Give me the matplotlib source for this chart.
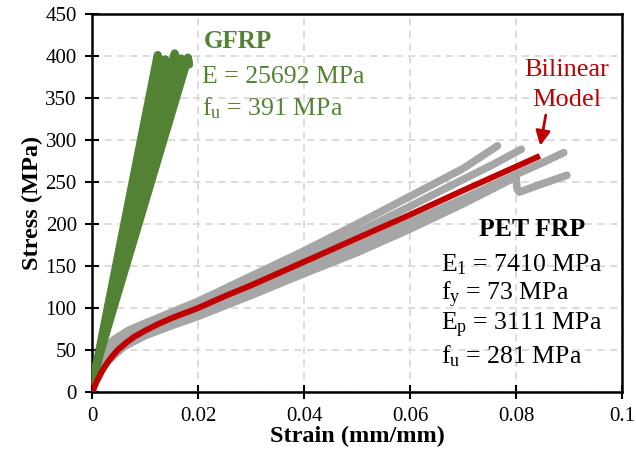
import numpy as np
import matplotlib
matplotlib.use('Agg')
import matplotlib.pyplot as plt

plt.rcParams['font.family'] = ['Liberation Serif', 'DejaVu Serif']
plt.rcParams['mathtext.fontset'] = 'custom'
plt.rcParams['mathtext.rm'] = 'Liberation Serif'
plt.rcParams['mathtext.it'] = 'Liberation Serif:italic'
plt.rcParams['mathtext.bf'] = 'Liberation Serif:bold'

# GFRP specimens (strain, stress)
gfrp_1_x = [0.0, 0.0124, 0.0127]
gfrp_1_y = [5, 401, 390]
gfrp_2_x = [0.0, 0.0138, 0.0141]
gfrp_2_y = [6, 396, 388]
gfrp_3_x = [0.0, 0.0156, 0.0159]
gfrp_3_y = [10, 403, 394]
gfrp_4_x = [0.0, 0.0168, 0.0171]
gfrp_4_y = [12, 397, 388]
gfrp_5_x = [0.0, 0.0181, 0.0183]
gfrp_5_y = [15, 398, 390]

# PET FRP specimens
pet_1_x = [0.0, 0.0005, 0.002, 0.004, 0.007, 0.01, 0.015, 0.02, 0.03, 0.04, 0.05, 0.06, 0.07, 0.0765]
pet_1_y = [0, 28, 48, 62, 74, 82, 95, 108, 138, 168, 200, 233, 266, 293]
pet_2_x = [0.0, 0.001, 0.003, 0.006, 0.01, 0.015, 0.02, 0.03, 0.04, 0.05, 0.06, 0.07, 0.076, 0.081]
pet_2_y = [0, 32, 50, 65, 77, 90, 103, 131, 160, 190, 221, 253, 272, 289]
pet_3_x = [0.0, 0.001, 0.003, 0.006, 0.01, 0.015, 0.02, 0.03, 0.04, 0.05, 0.06, 0.07, 0.08, 0.085, 0.089]
pet_3_y = [0, 22, 40, 57, 71, 84, 95, 121, 147, 174, 202, 230, 259, 273, 285]
pet_4_x = [0.0, 0.001, 0.003, 0.006, 0.01, 0.015, 0.02, 0.03, 0.04, 0.05, 0.06, 0.07, 0.08, 0.0802, 0.0806, 0.085, 0.0896]
pet_4_y = [0, 20, 37, 54, 67, 79, 90, 115, 141, 166, 194, 224, 256, 242, 238, 248, 258]

# bilinear model
model_x = [0.0, 0.001, 0.002, 0.003, 0.004, 0.005, 0.0065, 0.008, 0.01, 0.0125, 0.015, 0.0175,
           0.02, 0.025, 0.03, 0.04, 0.05, 0.06, 0.07, 0.0845]
model_y = [0, 14, 26, 36, 44, 51, 59, 66, 73, 81, 88, 94,
           100, 114, 127, 155, 183, 211, 240, 281]

x_ticks = [0, 0.02, 0.04, 0.06, 0.08, 0.1]
x_tick_labels = ['0', '0.02', '0.04', '0.06', '0.08', '0.1']
y_ticks = [0, 50, 100, 150, 200, 250, 300, 350, 400, 450]

green = '#548235'
gray = '#A6A6A6'
red = '#C00000'

fig = plt.figure(figsize=(6.36, 4.58), dpi=100)
ax = fig.add_axes([0.1447, 0.144, 0.9780 - 0.1447, 0.9694 - 0.144])

for gx, gy in [(pet_1_x, pet_1_y), (pet_2_x, pet_2_y), (pet_3_x, pet_3_y), (pet_4_x, pet_4_y)]:
    ax.plot(gx, gy, color=gray, lw=5.5, solid_capstyle='round', solid_joinstyle='round', zorder=2)

for gx, gy in [(gfrp_1_x, gfrp_1_y), (gfrp_2_x, gfrp_2_y), (gfrp_3_x, gfrp_3_y),
               (gfrp_4_x, gfrp_4_y), (gfrp_5_x, gfrp_5_y)]:
    ax.plot(gx, gy, color=green, lw=6, solid_capstyle='round', solid_joinstyle='round', zorder=3)

ax.plot(model_x, model_y, color=red, lw=4.3, solid_capstyle='butt', zorder=4)

ax.set_xlim(0, 0.1)
ax.set_ylim(0, 450)
ax.set_xticks(x_ticks)
ax.set_xticklabels(x_tick_labels)
ax.set_yticks(y_ticks)
ax.tick_params(direction='inout', length=10, width=1.5, labelsize=15, pad=6)
ax.grid(True, color='#D9D9D9', linestyle=(0, (4, 3)), lw=1.3, zorder=0)
ax.set_axisbelow(True)
for s in ax.spines.values():
    s.set_linewidth(1.8)

ax.set_xlabel('Strain (mm/mm)', fontsize=17.5, fontweight='bold', labelpad=0)
ax.set_ylabel('Stress (MPa)', fontsize=17.5, fontweight='bold', labelpad=2)

# GFRP annotation
ax.text(0.0211, 417, 'GFRP', color=green, fontsize=18, fontweight='bold', va='center', ha='left')
ax.text(0.0208, 375, 'E = 25692 MPa', color=green, fontsize=18.5, va='center', ha='left')
ax.text(0.0208, 338, r'f$_{\rm u}$ = 391 MPa', color=green, fontsize=18.5, va='center', ha='left')

# PET FRP annotation
ax.text(0.0830, 193, 'PET FRP', color='black', fontsize=18.5, fontweight='bold', va='center', ha='center')
pet_lines = [r'E$_{\rm 1}$ = 7410 MPa', r'f$_{\rm y}$ = 73 MPa',
             r'E$_{\rm p}$ = 3111 MPa', r'f$_{\rm u}$ = 281 MPa']
pet_y = [152, 116, 79, 43]
for t, yy in zip(pet_lines, pet_y):
    ax.text(0.0659, yy, t, color='black', fontsize=18.5, va='center', ha='left')

# bilinear model label
ax.text(0.0895, 383, 'Bilinear', color=red, fontsize=19, va='center', ha='center')
ax.text(0.0895, 348, 'Model', color=red, fontsize=19, va='center', ha='center')
ax.annotate('', xy=(0.0845, 290), xytext=(0.0857, 333),
            arrowprops=dict(arrowstyle='-|>', color=red, lw=2, mutation_scale=22))

fig.savefig('out.png', dpi=100)
